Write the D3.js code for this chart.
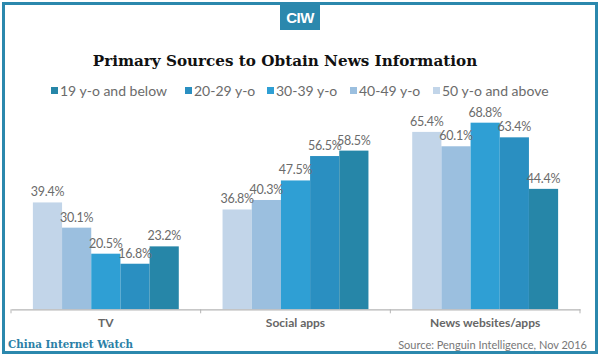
<!DOCTYPE html>
<html><head><meta charset="utf-8">
<script src="https://cdn.jsdelivr.net/npm/d3@7"></script>
<style>body{margin:0;background:#fff}svg{display:block}</style>
</head><body>
<script>
const categories = ["TV", "Social apps", "News websites/apps"];
const seriesNames = ["50 y-o and above", "40-49 y-o", "30-39 y-o", "20-29 y-o", "19 y-o and below"];
const s50 = [39.4, 36.8, 65.4];
const s40 = [30.1, 40.3, 60.1];
const s30 = [20.5, 47.5, 68.8];
const s20 = [16.8, 56.5, 63.4];
const s19 = [23.2, 58.5, 44.4];
const seriesValues = [s50, s40, s30, s20, s19];
const colors = ["#c2d5e9", "#9bbfdf", "#2f9fd4", "#2a8fc1", "#2686a8"];
const legendOrder = [4, 3, 2, 1, 0];

const W = 600, H = 356;
const svg = d3.select("body").append("svg").attr("width", W).attr("height", H);
svg.append("rect").attr("x", 0).attr("y", 0).attr("width", W).attr("height", H).attr("fill", "#fff");
// frame
svg.append("rect").attr("x", 3.5).attr("y", 3.5).attr("width", 593).attr("height", 349)
  .attr("fill", "none").attr("stroke", "#2b88ad").attr("stroke-width", 3);
// CIW logo
svg.append("rect").attr("x", 280).attr("y", 3).attr("width", 40).attr("height", 27).attr("fill", "#2b88ad");
svg.append("text").attr("x", 300).attr("y", 22.5).attr("text-anchor", "middle")
  .attr("font-family", "Liberation Sans, Arial, sans-serif").attr("font-weight", "bold")
  .attr("font-size", 15).attr("fill", "#fff").attr("letter-spacing", -0.5).text("CIW");

// title
svg.append("text").attr("x", 285).attr("y", 66).attr("text-anchor", "middle")
  .attr("font-family", "DejaVu Serif, Liberation Serif, serif").attr("font-weight", "bold")
  .attr("font-size", 15.2).attr("fill", "#111").text("Primary Sources to Obtain News Information");

// legend
const legX = [51, 185, 267, 350, 433];
const leg = svg.append("g");
legendOrder.forEach((si, i) => {
  leg.append("rect").attr("x", legX[i]).attr("y", 87).attr("width", 7).attr("height", 7).attr("fill", colors[si]);
  leg.append("text").attr("x", legX[i] + 9).attr("y", 95.5)
    .attr("font-family", "Lato, Open Sans, sans-serif").attr("font-size", 14)
    .attr("fill", "#6b6b6b").text(seriesNames[si]);
});

// scales
const x0 = d3.scaleBand().domain(categories).range([11, 580]).paddingInner(0).paddingOuter(0);
const x1 = d3.scaleBand().domain(d3.range(seriesNames.length)).range([0, x0.bandwidth()]).paddingOuter(0.75).paddingInner(0);
const y = d3.scaleLinear().domain([0, 80]).range([309.3, 92.3]);

const g = svg.append("g");
categories.forEach((c, ci) => {
  seriesValues.forEach((vals, si) => {
    const bx = x0(c) + x1(si);
    g.append("rect").attr("x", bx).attr("y", y(vals[ci])).attr("width", x1.bandwidth())
      .attr("height", y(0) - y(vals[ci])).attr("fill", colors[si]);
  });
  seriesValues.forEach((vals, si) => {
    const bx = x0(c) + x1(si);
    g.append("text").attr("x", bx + x1.bandwidth() / 2).attr("y", y(vals[ci]) - 6)
      .attr("text-anchor", "middle").attr("font-family", "Lato, Open Sans, sans-serif")
      .attr("font-size", 12.5).attr("letter-spacing", -0.25).attr("fill", "#6b6b6b").text(vals[ci].toFixed(1) + "%");
  });
});

// axis
const axis = d3.axisBottom(x0).tickSize(0).tickPadding(9);
const ax = svg.append("g").attr("transform", `translate(0,${y(0)})`).call(axis);
ax.select(".domain").attr("stroke", "#b5b5b5").attr("stroke-width", 1.2);
ax.selectAll("text").attr("font-family", "Lato, Open Sans, sans-serif").attr("font-weight", "bold")
  .attr("font-size", 12).attr("fill", "#666");
const tickPos = [...categories.map(c => x0(c)), x0.range()[1]];
ax.selectAll(".sep").data(tickPos).enter().append("line").attr("class", "sep")
  .attr("x1", d => d).attr("x2", d => d).attr("y1", 0).attr("y2", 4).attr("stroke", "#b5b5b5");

// footer
svg.append("text").attr("x", 8).attr("y", 348).attr("font-family", "DejaVu Serif Condensed, DejaVu Serif, serif")
  .attr("font-stretch", "condensed")
  .attr("font-weight", "bold").attr("font-size", 11.5).attr("fill", "#2b7fa6").text("China Internet Watch");
svg.append("text").attr("x", 587).attr("y", 349).attr("text-anchor", "end")
  .attr("font-family", "Lato, Open Sans, sans-serif").attr("font-size", 11).attr("fill", "#777")
  .text("Source: Penguin Intelligence, Nov 2016");
</script>
</body></html>
